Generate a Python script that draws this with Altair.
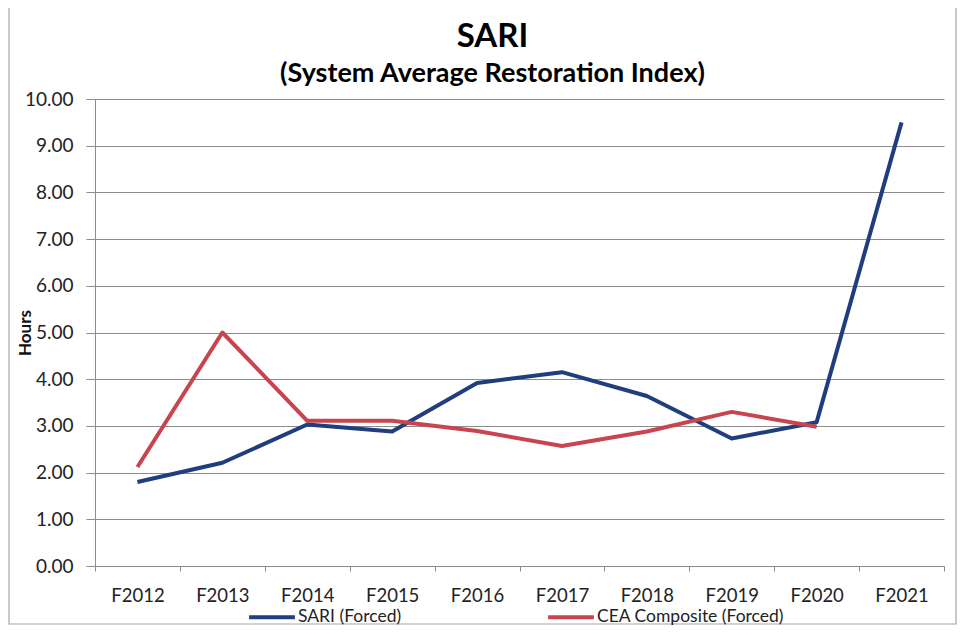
import altair as alt
import pandas as pd

years = ["F2012", "F2013", "F2014", "F2015", "F2016", "F2017", "F2018", "F2019", "F2020", "F2021"]
sari_forced = [1.80, 2.21, 3.03, 2.88, 3.92, 4.15, 3.64, 2.73, 3.08, 9.50]
cea_forced = [2.12, 5.00, 3.11, 3.11, 2.89, 2.57, 2.88, 3.30, 2.98, None]
series_names = ["SARI (Forced)", "CEA Composite (Forced)"]
series_colors = ["#203d7e", "#c8444f"]

rows = []
for name, vals in zip(series_names, [sari_forced, cea_forced]):
    for y, v in zip(years, vals):
        if v is not None:
            rows.append({"Year": y, "Series": name, "Hours": v})
df = pd.DataFrame(rows)

FONT = "Lato"
W, H = 849, 467

lines = alt.Chart(df).mark_line(strokeWidth=4, strokeJoin="round").encode(
    x=alt.X("Year:N", sort=years,
            scale=alt.Scale(type="band", paddingInner=0, paddingOuter=0),
            axis=alt.Axis(title=None, tickBand="extent", labelAngle=0,
                          tickSize=5, labelPadding=15, labelFontSize=18.5,
                          labelColor="#222222", grid=False,
                          domainColor="#8c8c8c", tickColor="#8c8c8c")),
    y=alt.Y("Hours:Q", scale=alt.Scale(domain=[0, 10]),
            axis=alt.Axis(title="Hours", values=list(range(0, 11)), format=".2f",
                          tickSize=9, labelPadding=13, labelFontSize=19,
                          labelColor="#222222", grid=True, gridColor="#8c8c8c",
                          domainColor="#8c8c8c", tickColor="#8c8c8c",
                          titleFontSize=17, titleFontWeight="bold", titleColor="#111111",
                          titleAngle=-90, titleX=-70, titleY=H / 2,
                          titleAlign="center", titleBaseline="middle")),
    color=alt.Color("Series:N",
                    scale=alt.Scale(domain=series_names, range=series_colors),
                    sort=series_names,
                    legend=alt.Legend(title=None, orient="none", direction="horizontal",
                                      legendX=152, legendY=493, symbolType="stroke",
                                      symbolSize=2100, symbolStrokeWidth=4,
                                      labelFontSize=17.5, labelColor="#222222",
                                      labelOffset=1, columnPadding=138, padding=0,
                                      labelLimit=400)),
    order=alt.Order("Series:N")
)

border = alt.Chart(pd.DataFrame({"k": [0]})).mark_rect(
    fill=None, stroke="#a6a6a6", strokeWidth=1.2
).encode(x=alt.value(-86), x2=alt.value(861), y=alt.value(-92), y2=alt.value(525))

chart = alt.layer(border, lines).properties(
    width=W, height=H,
    title=alt.TitleParams(text="SARI", subtitle="(System Average Restoration Index)",
                          anchor="middle", frame="group", dx=-27, offset=-81, fontSize=33,
                          subtitleFontSize=27, subtitleFontWeight="bold",
                          subtitleColor="#000000", color="#000000", font=FONT,
                          subtitleFont=FONT, subtitlePadding=7),
    autosize=alt.AutoSizeParams(type="none"),
    padding={"left": 87, "top": 91, "right": 14, "bottom": 60},
).configure(font=FONT, background="white").configure_view(stroke=None)

chart.save("out.html", embed_options={"renderer": "svg", "actions": False})
